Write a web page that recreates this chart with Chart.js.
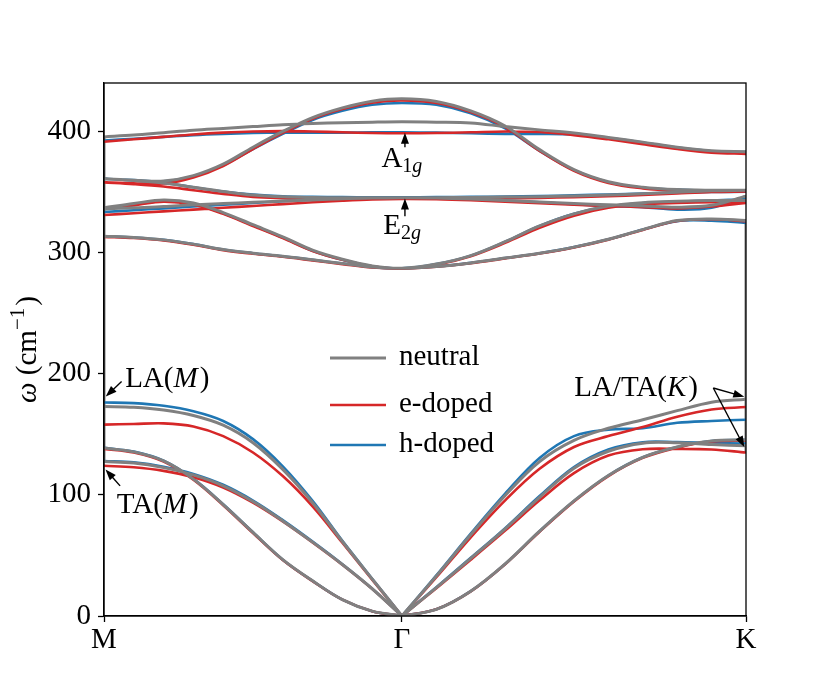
<!DOCTYPE html>
<html><head><meta charset="utf-8">
<script src="https://cdn.jsdelivr.net/npm/chart.js@4"></script>
<style>html,body{margin:0;padding:0;background:#fff}canvas{display:block}</style>
</head><body>
<canvas id="c" width="830" height="692"></canvas>
<script>
// ---- k-path (M -> Gamma -> K), tick labels ----
const kMG = [0, 0.1, 0.2, 0.3, 0.4, 0.5, 0.6, 0.7, 0.8, 0.9, 1.0];
const kGK = [1.0, 1.1155, 1.2309, 1.3464, 1.4619, 1.5774, 1.6928, 1.8083, 1.9238, 2.0392, 2.1547];
const tickPos = [0, 1.0, 2.1547];
const tickLabels = ['M', 'Γ', 'K'];
const yTicks = [0, 100, 200, 300, 400];
const seriesNames = ['neutral', 'e-doped', 'h-doped'];

// ---- neutral ----
const neutralOptMG = [
  [395.5, 397, 399, 401, 402.5, 404, 405.5, 406.5, 407.2, 407.7, 408],
  [361, 359.8, 359, 363.5, 373, 387, 400, 411.5, 419.5, 425, 427],
  [361, 359.5, 357.5, 354, 350.5, 347.5, 346, 345.5, 345.3, 345.2, 345.2],
  [336, 337, 338, 339.5, 340.5, 341.5, 342.5, 343.5, 344.5, 345, 345.2],
  [337, 340.5, 343.5, 341, 333, 323, 313, 302, 294.5, 289, 287],
  [313.5, 312.5, 310.5, 307, 302.5, 299.5, 297, 294, 291, 288, 287]
];
const neutralOptGK = [
  [408, 407.7, 407, 404, 401.3, 398.7, 395, 391.2, 387, 384, 383.2],
  [427, 424.8, 417, 404.5, 385, 368.5, 358.5, 354, 352, 351.5, 351.5],
  [345.2, 345.3, 345.5, 345.8, 346.2, 346.8, 347.5, 348.5, 349.8, 351, 351.5],
  [345.2, 345, 344.2, 343, 341.7, 340.5, 339.5, 338.5, 337.5, 339, 346.5],
  [287, 290.5, 297.5, 309, 322, 332, 338.5, 341.2, 342.3, 343, 343],
  [287, 288.5, 291.5, 295.5, 299.5, 304.5, 311, 319, 326.5, 327.8, 326.5]
];
const neutralAcMG = [
  [173, 172.3, 170, 165.5, 157.5, 143, 121, 93.5, 61.5, 30.5, 0],
  [127.5, 126.3, 122.5, 116.5, 107.5, 94.5, 78.5, 61, 42.5, 22.5, 0],
  [138.6, 135.5, 128, 113, 92, 69, 46.5, 29, 13.5, 4, 0]
];
const neutralAcGK = [
  [0, 33, 67, 99.5, 127.5, 145, 155, 162, 169.5, 176.5, 179],
  [0, 23.5, 47.5, 72, 98, 122, 136, 142.7, 143, 141.5, 140.5],
  [0, 5.5, 20.5, 43, 70, 95, 116, 131, 139.5, 144.5, 145.5]
];
const neutralEdgeM = [127.5, 395.5];
const neutralEdgeK = [135, 326.5];

// ---- e-doped ----
const eOptMG = [
  [391.5, 393.5, 395.5, 397.5, 399, 400, 400.3, 400, 399.3, 398.7, 398.5],
  [358, 357.3, 357, 362, 371.5, 385.5, 398.8, 410.5, 418.5, 423.8, 425.5],
  [358, 356.5, 354.5, 351.5, 348.5, 346, 345, 344.5, 344.3, 344.2, 344.2],
  [331, 332.5, 334, 335.5, 337, 338.5, 340, 341.5, 342.8, 343.8, 344.2],
  [336, 339, 342, 339.5, 332, 322, 312, 301.3, 294, 288.7, 286.8],
  [313, 312, 310, 306.5, 302, 299, 296.5, 293.5, 290.5, 287.7, 286.8]
];
const eOptGK = [
  [398.5, 398.7, 399.3, 400, 399.5, 397, 393.5, 389.5, 385.5, 382.5, 381.5],
  [425.5, 423.5, 416, 403.5, 384, 367.5, 357.5, 353, 351, 350.5, 350.5],
  [344.2, 344.3, 344.5, 344.8, 345.2, 345.8, 346.5, 347.5, 348.8, 350, 350.5],
  [344.2, 344, 343.2, 342, 340.7, 339.5, 338.5, 337.5, 336.5, 338, 341],
  [286.8, 290, 297, 308, 320.5, 330.5, 337, 340, 341, 341.5, 341.3],
  [286.8, 288.3, 291.2, 295.2, 299.2, 304.2, 310.7, 318.7, 326.2, 327.5, 326]
];
const eAcMG = [
  [158, 158.5, 159, 156.5, 148.5, 135, 115.5, 90.5, 60.5, 30, 0],
  [124, 122.8, 119.8, 114.5, 106, 93.5, 78, 60.7, 42.3, 22.4, 0],
  [138, 135, 127.5, 112.5, 91.5, 68.5, 46.2, 28.8, 13.5, 4, 0]
];
const eAcGK = [
  [0, 32, 65, 95.5, 121.5, 139.5, 148.5, 156, 164.5, 170.5, 172.5],
  [0, 23, 46.5, 70.5, 95.5, 118, 132.5, 137.7, 138, 137.5, 135],
  [0, 5.5, 20.3, 42.8, 69.5, 94.5, 115.5, 130.5, 139, 144, 145]
];

// ---- h-doped ----
const hOptMG = [
  [392.5, 394, 395.5, 397, 398, 398.7, 399, 399, 399, 399.2, 399.3],
  [361, 359.8, 358.8, 363, 372, 385.5, 398, 409.5, 417, 422, 423.5],
  [361, 359.5, 357.5, 354, 350.5, 348, 346.5, 346, 345.8, 345.7, 345.7],
  [333.5, 335, 336.5, 338, 339.5, 341, 342.5, 343.7, 344.7, 345.4, 345.7],
  [336, 339.5, 342.5, 340, 332.5, 322.5, 312.5, 301.5, 294, 288.7, 287],
  [313.5, 312.5, 310.5, 307, 302.5, 299.5, 297, 294, 291, 288, 287]
];
const hOptGK = [
  [399.3, 399, 398.5, 398, 398, 397.5, 394.5, 390.8, 386.7, 383.7, 383],
  [423.5, 422, 415, 402.5, 384, 368, 358, 353.5, 352, 351, 350],
  [345.7, 345.8, 346, 346.3, 346.7, 347.3, 348, 348.8, 349.5, 350, 350.3],
  [345.7, 345.3, 344.5, 343, 341.5, 340, 338.5, 337.5, 335.5, 337, 346.5],
  [287, 290.5, 297.5, 309, 322, 332, 338, 340.8, 342, 343, 344],
  [287, 288.5, 291.5, 295.5, 299.5, 304.5, 311, 319, 326, 326.3, 324.5]
];
const hAcMG = [
  [176.3, 175.7, 173.5, 169, 161, 146, 123.5, 95, 62, 30.8, 0],
  [128, 126.8, 123.2, 117.3, 108.3, 95.3, 79.2, 61.5, 42.8, 22.6, 0],
  [138.8, 135.7, 128.2, 113.2, 92.2, 69.1, 46.5, 29, 13.5, 4, 0]
];
const hAcGK = [
  [0, 33.5, 68, 101, 130.5, 148.5, 153.8, 155, 159.5, 161, 162],
  [0, 23.8, 48, 72.5, 99, 123, 137.5, 143.5, 143.5, 142.8, 142.4],
  [0, 5.5, 20.5, 43, 70, 95, 116, 131, 139.5, 144.5, 145.5]
];

// ---- annotations (data coordinates) ----
const annotations = [
  {parts: [['A', 0], ['1', 1], ['g', 2]], text: [0.931, 371], tail: [1.01, 387], tips: [[1.01, 399]]},
  {parts: [['E', 0], ['2', 1], ['g', 2]], text: [0.937, 315], tail: [1.01, 330], tips: [[1.01, 344.6]]},
  {parts: [['LA(', 0], ['M', 3], [')', 0]], text: [0.071, 189], tail: [0.059, 193.6], tips: [[0.006, 181.2]]},
  {parts: [['TA(', 0], ['M', 3], [')', 0]], text: [0.043, 85], tail: [0.054, 107.4], tips: [[0.005, 121]]},
  {parts: [['LA/TA(', 0], ['K', 3], [')', 0]], text: [1.578, 181.8], tail: [2.045, 188.2], tips: [[2.149, 181], [2.149, 139.5]]}
];
const yTitleParts = [['ω', 3], [' (cm', 0], ['−1', 4], [')', 0]];

const FONT = 'Liberation Serif';
const FS = 29;

function buildSeries(optMG, optGK, acMG, acGK) {
  const pts = [];
  optMG.forEach((band, i) => {
    band.forEach((v, j) => pts.push({x: kMG[j], y: v}));
    optGK[i].forEach((v, j) => { if (j > 0) pts.push({x: kGK[j], y: v}); });
    pts.push({x: kGK[kGK.length - 1], y: null});
  });
  acMG.forEach(band => {
    band.forEach((v, j) => pts.push({x: kMG[j], y: v}));
    pts.push({x: kMG[kMG.length - 1], y: null});
  });
  acGK.forEach(band => {
    band.forEach((v, j) => pts.push({x: kGK[j], y: v}));
    pts.push({x: kGK[kGK.length - 1], y: null});
  });
  return pts;
}

const colors = ['#808080', '#d62728', '#1f77b4'];
const widths = [3, 2.6, 2.6];

const overlay = {
  id: 'overlay',
  afterDraw(chart) {
    const {ctx, chartArea: a, scales: {x, y}} = chart;
    ctx.save();
    // full box (top & right spines)
    ctx.strokeStyle = '#000';
    ctx.lineWidth = 1.3;
    ctx.strokeRect(a.left, a.top, a.right - a.left, a.bottom - a.top);

    const fonts = [
      FS + 'px "' + FONT + '"',
      '20px "' + FONT + '"',
      'italic 20px "' + FONT + '"',
      'italic ' + FS + 'px "' + FONT + '"',
      '21px "' + FONT + '"'
    ];
    const dys = [0, 5, 5, 0, -12];
    ctx.fillStyle = '#000';
    ctx.textBaseline = 'alphabetic';
    ctx.textAlign = 'left';

    // y-axis title (rotated)
    ctx.save();
    ctx.translate(36, (a.top + a.bottom) / 2);
    ctx.rotate(-Math.PI / 2);
    let total = 0;
    yTitleParts.forEach(([t, k]) => { ctx.font = fonts[k]; total += ctx.measureText(t).width + (k === 4 ? 2 : 0); });
    let u = -total / 2;
    yTitleParts.forEach(([t, k]) => {
      ctx.font = fonts[k];
      ctx.fillText(t, u, dys[k]);
      u += ctx.measureText(t).width + (k === 4 ? 2 : 0);
    });
    ctx.restore();

    // annotations
    annotations.forEach(an => {
      let px = x.getPixelForValue(an.text[0]);
      const py = y.getPixelForValue(an.text[1]);
      an.parts.forEach(([t, k]) => {
        ctx.font = fonts[k];
        ctx.fillText(t, px, py + dys[k]);
        px += ctx.measureText(t).width + (k === 3 ? 2 : 0);
      });
      const tx = x.getPixelForValue(an.tail[0]);
      const ty = y.getPixelForValue(an.tail[1]);
      an.tips.forEach(tp => {
        const hx = x.getPixelForValue(tp[0]);
        const hy = y.getPixelForValue(tp[1]);
        const ang = Math.atan2(hy - ty, hx - tx);
        const L = 11, W = 4;
        ctx.strokeStyle = '#000';
        ctx.lineWidth = 1.4;
        ctx.beginPath();
        ctx.moveTo(tx, ty);
        ctx.lineTo(hx - Math.cos(ang) * L * 0.8, hy - Math.sin(ang) * L * 0.8);
        ctx.stroke();
        ctx.beginPath();
        ctx.moveTo(hx, hy);
        ctx.lineTo(hx - Math.cos(ang) * L + Math.sin(ang) * W, hy - Math.sin(ang) * L - Math.cos(ang) * W);
        ctx.lineTo(hx - Math.cos(ang) * L - Math.sin(ang) * W, hy - Math.sin(ang) * L + Math.cos(ang) * W);
        ctx.closePath();
        ctx.fill();
      });
    });

    // legend
    const rowsY = [a.top + 275, a.top + 322, a.top + 362];
    const lx0 = a.left + 226, lx1 = a.left + 282, tx0 = a.left + 295;
    ctx.font = FS + 'px "' + FONT + '"';
    ctx.textBaseline = 'middle';
    seriesNames.forEach((name, i) => {
      ctx.strokeStyle = colors[i];
      ctx.lineWidth = widths[i];
      ctx.beginPath();
      ctx.moveTo(lx0, rowsY[i]);
      ctx.lineTo(lx1, rowsY[i]);
      ctx.stroke();
      ctx.fillStyle = '#000';
      ctx.fillText(name, tx0, rowsY[i] - 1);
    });
    ctx.restore();
  }
};

const seriesData = [
  buildSeries(neutralOptMG, neutralOptGK, neutralAcMG, neutralAcGK),
  buildSeries(eOptMG, eOptGK, eAcMG, eAcGK),
  buildSeries(hOptMG, hOptGK, hAcMG, hAcGK)
];

const datasets = seriesNames.map((name, i) => ({
  label: name,
  data: seriesData[i],
  borderColor: colors[i],
  backgroundColor: colors[i],
  borderWidth: widths[i],
  pointRadius: 0,
  tension: 0.35,
  spanGaps: false,
  fill: false,
  order: i
}));
datasets.push({
  label: 'neutral (M edge)',
  data: neutralEdgeM.map(v => ({x: tickPos[0], y: v})),
  borderColor: colors[0], borderWidth: widths[0], pointRadius: 0, order: 5
});
datasets.push({
  label: 'neutral (K edge)',
  data: neutralEdgeK.map(v => ({x: tickPos[2], y: v})),
  borderColor: colors[0], borderWidth: widths[0], pointRadius: 0, order: 5
});

new Chart(document.getElementById('c'), {
  type: 'line',
  data: {datasets},
  options: {
    responsive: false,
    animation: false,
    events: [],
    layout: {padding: {left: 0, right: 84, top: 83, bottom: 0}},
    plugins: {legend: {display: false}, tooltip: {enabled: false}},
    scales: {
      x: {
        type: 'linear',
        min: tickPos[0],
        max: tickPos[2],
        afterBuildTicks: s => { s.ticks = tickPos.map(v => ({value: v})); },
        afterFit: s => { s.height = 76; },
        ticks: {
          callback: (v, i) => tickLabels[i],
          autoSkip: false, maxRotation: 0,
          color: '#000', padding: 1,
          font: {family: FONT, size: FS}
        },
        grid: {drawOnChartArea: false, drawTicks: true, tickLength: 6, tickColor: '#000', tickWidth: 1.3},
        border: {display: true, color: '#000', width: 1.3}
      },
      y: {
        type: 'linear',
        min: 0,
        max: 440,
        afterBuildTicks: s => { s.ticks = yTicks.map(v => ({value: v})); },
        afterFit: s => { s.width = 104; },
        ticks: {color: '#000', padding: 7, font: {family: FONT, size: FS}},
        grid: {drawOnChartArea: false, drawTicks: true, tickLength: 6, tickColor: '#000', tickWidth: 1.3},
        border: {display: true, color: '#000', width: 1.3},
        title: {display: false, text: 'ω (cm⁻¹)'}
      }
    }
  },
  plugins: [overlay]
});
</script>
</body></html>
